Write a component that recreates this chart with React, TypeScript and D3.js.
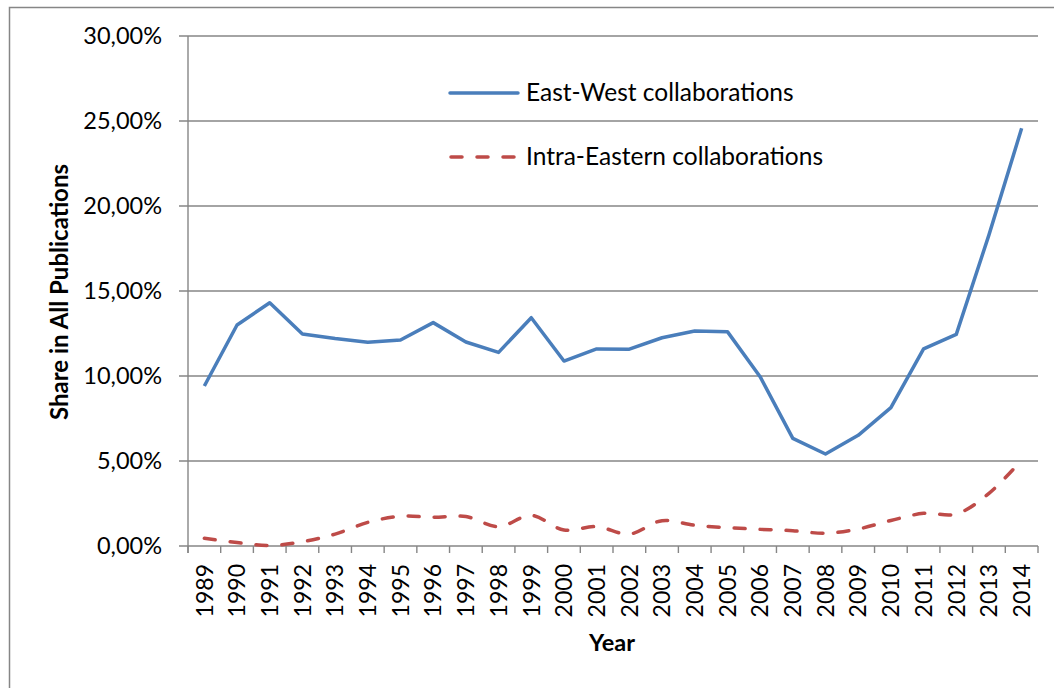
import React from "react";
import * as d3 from "d3";

// Share of all publications by collaboration type, 1989–2014 (percent)
const years: string[] = [
  "1989", "1990", "1991", "1992", "1993", "1994", "1995", "1996", "1997",
  "1998", "1999", "2000", "2001", "2002", "2003", "2004", "2005", "2006",
  "2007", "2008", "2009", "2010", "2011", "2012", "2013", "2014",
];

const eastWest: number[] = [
  9.41, 13.0, 14.31, 12.47, 12.2, 11.98, 12.12, 13.14, 12.0, 11.39, 13.43,
  10.88, 11.59, 11.58, 12.25, 12.65, 12.61, 9.96, 6.33, 5.41, 6.51, 8.14,
  11.59, 12.45, 18.3, 24.57,
];

const intraEastern: number[] = [
  0.45, 0.2, 0.03, 0.25, 0.7, 1.39, 1.75, 1.69, 1.73, 1.14, 1.8, 0.94, 1.14,
  0.7, 1.49, 1.22, 1.08, 0.98, 0.9, 0.75, 1.0, 1.5, 1.92, 1.88, 3.1, 5.05,
];

const yTicks: number[] = [0, 5, 10, 15, 20, 25, 30];

const seriesNames = ["East-West collaborations", "Intra-Eastern collaborations"];

const W = 1054;
const H = 688;
const left = 188;
const right = 1038;
const top = 36;
const bottom = 546;

const FONT = "Lato, 'Open Sans', sans-serif";
const GRID = "#868686";
const BLUE = "#4A7EBB";
const RED = "#BE4B48";

export default function App() {
  const x = d3.scaleBand<string>().domain(years).range([left, right]).padding(0);
  const y = d3.scaleLinear().domain([0, 30]).range([bottom, top]);
  const cx = (i: number) => (x(years[i]) as number) + x.bandwidth() / 2;

  const straight = d3
    .line<number>()
    .x((_, i) => cx(i))
    .y((d) => y(d));
  const smooth = d3
    .line<number>()
    .x((_, i) => cx(i))
    .y((d) => y(d))
    .curve(d3.curveCatmullRom.alpha(0.5));

  const fmt = (v: number) => v.toFixed(2).replace(".", ",") + "%";
  const boundaries = years.map((yr) => x(yr) as number).concat([right]);

  return (
    <svg
      width={W}
      height={H}
      style={{ position: "absolute", left: 0, top: 0, background: "#fff" }}
    >
      <rect x={0} y={0} width={W} height={H} fill="#fff" />
      {/* chart frame, running off the right and bottom edges */}
      <rect x={9.5} y={7.5} width={1070} height={720} fill="none" stroke={GRID} strokeWidth={1.5} />

      {/* horizontal gridlines with left tick stubs */}
      {yTicks.map((t) => (
        <line key={t} x1={179} x2={right} y1={y(t)} y2={y(t)} stroke={GRID} strokeWidth={1.4} />
      ))}
      {/* value axis */}
      <line x1={left} x2={left} y1={top} y2={bottom + 7} stroke={GRID} strokeWidth={1.4} />
      {/* category tick marks */}
      {boundaries.map((b, i) => (
        <line key={i} x1={b} x2={b} y1={bottom} y2={bottom + 7} stroke={GRID} strokeWidth={1.4} />
      ))}

      {/* y tick labels */}
      {yTicks.map((t) => (
        <text
          key={t}
          x={162}
          y={y(t)}
          dy="0.36em"
          textAnchor="end"
          fontFamily={FONT}
          fontSize={23.5}
          fill="#000"
        >
          {fmt(t)}
        </text>
      ))}

      {/* year labels, rotated */}
      {years.map((yr, i) => (
        <text
          key={yr}
          transform={`translate(${cx(i)},${564}) rotate(-90)`}
          textAnchor="end"
          dy="0.36em"
          fontFamily={FONT}
          fontSize={23}
          fill="#000"
        >
          {yr}
        </text>
      ))}

      {/* axis titles */}
      <text
        x={612}
        y={651}
        textAnchor="middle"
        fontFamily={FONT}
        fontWeight="bold"
        fontSize={23.5}
        fill="#000"
      >
        Year
      </text>
      <text
        transform={`translate(68,292) rotate(-90)`}
        textAnchor="middle"
        fontFamily={FONT}
        fontWeight="bold"
        fontSize={24}
        fill="#000"
      >
        Share in All Publications
      </text>

      {/* series */}
      <path d={straight(eastWest) ?? ""} fill="none" stroke={BLUE} strokeWidth={3.5} strokeLinejoin="round" />
      <path
        d={smooth(intraEastern) ?? ""}
        fill="none"
        stroke={RED}
        strokeWidth={3.5}
        strokeDasharray="11,15"
        strokeLinecap="round"
      />

      {/* legend */}
      <line x1={450} x2={518} y1={93} y2={93} stroke={BLUE} strokeWidth={3.5} strokeLinecap="round" />
      <text x={526} y={101} fontFamily={FONT} fontSize={24.5} fill="#000">
        {seriesNames[0]}
      </text>
      <line
        x1={451}
        x2={518}
        y1={157}
        y2={157}
        stroke={RED}
        strokeWidth={3.5}
        strokeDasharray="11,15"
        strokeLinecap="round"
      />
      <text x={526} y={165} fontFamily={FONT} fontSize={24.5} fill="#000">
        {seriesNames[1]}
      </text>
    </svg>
  );
}
